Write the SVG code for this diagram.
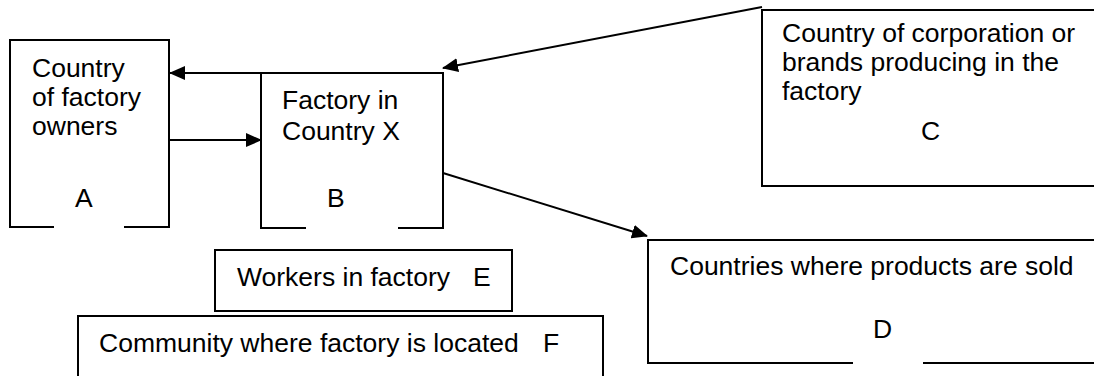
<svg xmlns="http://www.w3.org/2000/svg" width="1094" height="376" viewBox="0 0 1094 376">
<style>
.box{fill:none;stroke:#000;stroke-width:2}
.conn{fill:none;stroke:#000;stroke-width:2}
text{font-family:"Liberation Sans",Arial,sans-serif;font-size:26.5px;fill:#000}
</style>
<defs>
<marker id="ah" markerUnits="userSpaceOnUse" markerWidth="16" markerHeight="14" viewBox="0 0 16 14" refX="15" refY="7" orient="auto">
<path d="M0,0 L16,7 L0,14 Z" fill="#000"/>
</marker>
</defs>
<rect width="1094" height="376" fill="#fff"/>
<g id="nodeA">
<path class="box" d="M54,227 H10 V40 H169 V227 H124"/>
<text x="32" y="77">Country</text>
<text x="32" y="106">of factory</text>
<text x="32" y="135">owners</text>
<text x="75" y="207">A</text>
</g>
<g id="nodeB">
<path class="box" d="M306,228 H261 V73 H443 V228 H398"/>
<text x="282" y="109">Factory in</text>
<text x="282" y="140">Country X</text>
<text x="327" y="207">B</text>
</g>
<g id="nodeC">
<path class="box" d="M1100,10 H762 V186 H1100"/>
<text x="782" y="42">Country of corporation or</text>
<text x="782" y="71">brands producing in the</text>
<text x="782" y="100">factory</text>
<text x="921" y="140">C</text>
</g>
<g id="nodeD">
<path class="box" d="M853,363 H648 V240 H1100 M923,363 H1100"/>
<text x="670" y="275">Countries where products are sold</text>
<text x="873" y="338">D</text>
</g>
<g id="nodeE">
<rect class="box" x="215" y="250" width="297" height="61"/>
<text x="237" y="286">Workers in factory</text>
<text x="473" y="286">E</text>
</g>
<g id="nodeF">
<path class="box" d="M78,380 V316 H603 V380"/>
<text x="99" y="352">Community where factory is located</text>
<text x="543" y="352">F</text>
</g>
<g id="connectors">
<line class="conn" x1="261" y1="73" x2="170" y2="73" marker-end="url(#ah)"/>
<line class="conn" x1="169" y1="140" x2="261" y2="140" marker-end="url(#ah)"/>
<line class="conn" x1="762" y1="7" x2="443" y2="68" marker-end="url(#ah)"/>
<line class="conn" x1="443" y1="173" x2="647" y2="236" marker-end="url(#ah)"/>
</g>
</svg>
